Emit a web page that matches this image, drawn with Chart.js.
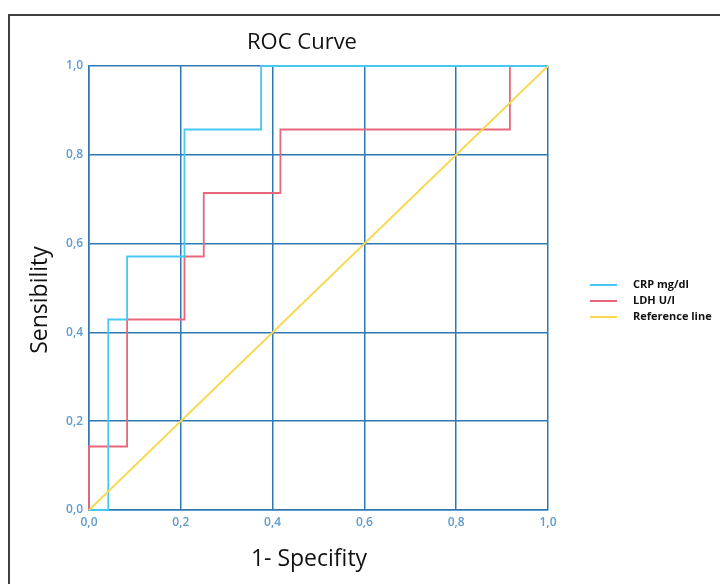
<!DOCTYPE html>
<html>
<head>
<meta charset="utf-8">
<script src="https://cdn.jsdelivr.net/npm/chart.js@4/dist/chart.umd.min.js"></script>
<style>
html,body{margin:0;padding:0;background:#fff;}
#c{display:block;}
</style>
</head>
<body>
<canvas id="c" width="720" height="584"></canvas>
<script>
// ROC coordinates (1 - specificity, sensitivity)
const seriesLabels = ["CRP mg/dl", "LDH U/l", "Reference line"];
const crpFpr = [0, 0.042, 0.042, 0.083, 0.083, 0.208, 0.208, 0.375, 0.375, 1];
const crpTpr = [0, 0, 0.429, 0.429, 0.571, 0.571, 0.857, 0.857, 1, 1];
const ldhFpr = [0, 0, 0.083, 0.083, 0.208, 0.208, 0.25, 0.25, 0.417, 0.417, 0.917, 0.917, 1];
const ldhTpr = [0, 0.143, 0.143, 0.429, 0.429, 0.571, 0.571, 0.714, 0.714, 0.857, 0.857, 1, 1];
const refFpr = [0, 1];
const refTpr = [0, 1];
const tickValues = [0, 0.2, 0.4, 0.6, 0.8, 1.0];
const tickLabels = ["0,0", "0,2", "0,4", "0,6", "0,8", "1,0"];
const titleText = "ROC Curve";
const xTitle = "1- Specifity";
const yTitle = "Sensibility";

const colors = ["#45c8f2", "#e8677a", "#f8d94e"];
const gridColor = "#2f78b4";
const tickColor = "#5f9bd0";

function pts(xs, ys) { return xs.map((x, i) => ({x: x, y: ys[i]})); }

const decor = {
  id: 'decor',
  beforeDraw(chart) {
    const ctx = chart.ctx;
    ctx.save();
    ctx.fillStyle = '#fff';
    ctx.fillRect(0, 0, chart.width, chart.height);
    ctx.strokeStyle = '#404040';
    ctx.lineWidth = 2;
    ctx.beginPath();
    ctx.moveTo(9, 600);
    ctx.lineTo(9, 15);
    ctx.lineTo(740, 15);
    ctx.stroke();
    ctx.restore();
  },
  afterDraw(chart) {
    const ctx = chart.ctx;
    ctx.save();
    ctx.fillStyle = '#111';
    ctx.textAlign = 'center';
    ctx.textBaseline = 'middle';
    ctx.font = '22px "Open Sans"';
    ctx.fillText(titleText, 302, 43);
    ctx.font = '23px "Open Sans"';
    ctx.fillText(xTitle, 309, 559);
    ctx.save();
    ctx.translate(40, 300);
    ctx.rotate(-Math.PI / 2);
    ctx.fillText(yTitle, 0, 0);
    ctx.restore();
    // legend
    ctx.font = 'bold 11px "Open Sans"';
    ctx.textAlign = 'left';
    chart.data.datasets.forEach((ds, i) => {
      const y = 285 + i * 16;
      ctx.strokeStyle = ds.borderColor;
      ctx.lineWidth = 2;
      ctx.beginPath();
      ctx.moveTo(590, y);
      ctx.lineTo(617, y);
      ctx.stroke();
      ctx.fillStyle = '#111';
      ctx.fillText(ds.label, 633, y);
    });
    ctx.restore();
  }
};

new Chart(document.getElementById('c'), {
  type: 'scatter',
  data: {
    datasets: [
      {label: seriesLabels[0], data: pts(crpFpr, crpTpr), borderColor: colors[0], order: 2},
      {label: seriesLabels[1], data: pts(ldhFpr, ldhTpr), borderColor: colors[1], order: 3},
      {label: seriesLabels[2], data: pts(refFpr, refTpr), borderColor: colors[2], order: 1}
    ].map(d => Object.assign(d, {showLine: true, pointRadius: 0, borderWidth: 1.8, fill: false, tension: 0, clip: 4}))
  },
  options: {
    responsive: false,
    animation: false,
    layout: {padding: {left: 0, right: 172, top: 66, bottom: 0}},
    plugins: {legend: {display: false}, title: {display: false}, tooltip: {enabled: false}},
    scales: {
      x: {
        type: 'linear', min: 0, max: 1,
        afterBuildTicks: s => { s.ticks = tickValues.map(v => ({value: v})); },
        afterFit: s => { s.height = 74; },
        grid: {color: gridColor, lineWidth: 1.5, drawTicks: false},
        border: {color: gridColor, width: 1.5},
        ticks: {padding: 5, color: tickColor, font: {family: 'Open Sans', size: 12, weight: '600'},
          maxRotation: 0, callback: (v) => tickLabels[tickValues.indexOf(Math.round(v * 10) / 10)]}
      },
      y: {
        type: 'linear', min: 0, max: 1,
        afterBuildTicks: s => { s.ticks = tickValues.map(v => ({value: v})); },
        afterFit: s => { s.width = 89; },
        grid: {color: gridColor, lineWidth: 1.5, drawTicks: false},
        border: {color: gridColor, width: 1.5},
        ticks: {padding: 6, color: tickColor, font: {family: 'Open Sans', size: 12, weight: '600'},
          callback: (v) => tickLabels[tickValues.indexOf(Math.round(v * 10) / 10)]}
      }
    }
  },
  plugins: [decor]
});
</script>
</body>
</html>
